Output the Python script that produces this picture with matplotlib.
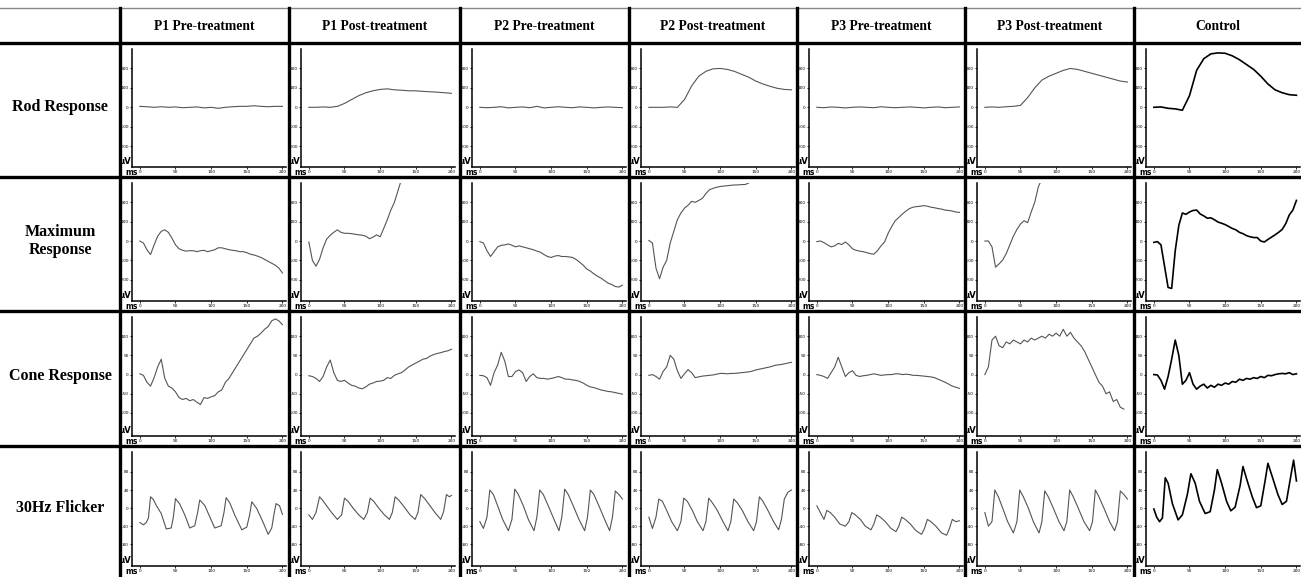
import numpy as np
import matplotlib
matplotlib.use("Agg")
import matplotlib.pyplot as plt

plt.rcParams['axes.unicode_minus'] = False

col_titles = ["P1 Pre-treatment", "P1 Post-treatment", "P2 Pre-treatment",
              "P2 Post-treatment", "P3 Pre-treatment", "P3 Post-treatment",
              "Control"]
row_titles = ["Rod Response", "Maximum\nResponse", "Cone Response", "30Hz Flicker"]

# ms grids
t_rod = np.arange(0, 201, 10)
t_5 = np.arange(0, 201, 5)

# Rod response (uV), every 10 ms
rod = [
    [5, 3, 0, 3, 0, 2, -2, 0, 2, -3, 0, -5, 0, 3, 5, 5, 8, 5, 3, 5, 5],
    [0, 0, 2, 0, 5, 20, 40, 60, 75, 85, 92, 95, 90, 88, 85, 85, 82, 80, 78, 75, 72],
    [0, -2, 0, 3, -3, 0, 2, -2, 5, -3, 0, 3, 0, -2, 2, 0, -3, 0, 2, 0, -2],
    [0, 0, 0, 2, 0, 40, 110, 160, 185, 198, 200, 195, 185, 170, 155, 135, 120, 108, 98, 92, 90],
    [0, -2, 2, 0, -3, 0, 2, 0, -2, 3, 0, -2, 0, 2, 0, -3, 0, 2, -2, 0, 2],
    [0, 2, 0, 3, 5, 10, 50, 100, 140, 160, 175, 190, 200, 195, 185, 175, 165, 155, 145, 135, 130],
    [0, 2, -5, -8, -15, 60, 190, 250, 275, 280, 278, 265, 245, 220, 195, 160, 120, 90, 75, 65, 62],
]

# Maximum response (uV), every 5 ms (short lists leave the panel at the top)
maxr = [
    [0, -10, -45, -70, -20, 25, 50, 58, 45, 15, -20, -40, -48, -52, -50, -50, -55, -50, -48, -55,
     -50, -45, -35, -35, -40, -45, -48, -50, -55, -55, -60, -68, -72, -78, -85, -95, -105, -115,
     -125, -140, -165],
    [-5, -100, -130, -95, -35, 10, 30, 45, 58, 45, 40, 40, 38, 35, 32, 30, 25, 12, 20, 32, 22,
     65, 110, 160, 200, 260, 320],
    [-3, -10, -50, -80, -55, -30, -22, -20, -15, -22, -30, -25, -30, -35, -40, -45, -52, -58, -70,
     -80, -85, -78, -75, -80, -80, -82, -85, -95, -110, -125, -145, -155, -170, -182, -192, -205,
     -218, -225, -235, -238, -228],
    [3, -10, -140, -195, -135, -100, -10, 50, 110, 145, 170, 185, 205, 200, 210, 220, 245, 265,
     272, 278, 282, 284, 286, 288, 290, 290, 292, 292, 300, 310],
    [-3, 0, -8, -20, -30, -25, -12, -18, -5, -20, -40, -48, -52, -55, -60, -65, -68, -50, -25, -5,
     40, 75, 105, 122, 140, 155, 168, 175, 178, 180, 183, 180, 175, 172, 168, 165, 160, 158, 155,
     150, 148],
    [0, 0, -30, -135, -118, -98, -65, -20, 25, 60, 88, 105, 95, 150, 200, 280, 320],
    [-7, -3, -20, -130, -240, -245, -50, 80, 145, 138, 150, 158, 160, 140, 130, 118, 120, 110, 98,
     92, 85, 75, 65, 58, 45, 38, 28, 22, 18, 18, 0, -5, 8, 20, 32, 45, 60, 90, 135, 160, 210],
]

# Cone response (uV), every 5 ms
cone = [
    [2, -2, -20, -30, -8, 20, 40, -10, -30, -35, -45, -60, -65, -62, -68, -65, -72, -78, -60, -62,
     -58, -55, -45, -40, -20, -10, 5, 20, 35, 50, 65, 80, 95, 100, 108, 118, 125, 140, 145, 140, 130],
    [-3, -5, -10, -18, -5, 20, 38, 5, -15, -18, -15, -22, -28, -30, -35, -37, -32, -25, -22, -18,
     -17, -15, -8, -10, -2, 2, 5, 12, 20, 25, 30, 35, 40, 42, 48, 52, 55, 57, 60, 62, 66],
    [-2, -3, -8, -28, 5, 25, 58, 35, -5, -5, 8, 12, 5, -18, -5, 2, -8, -10, -10, -12, -10, -8, -5,
     -8, -12, -12, -14, -15, -18, -22, -28, -32, -34, -37, -40, -42, -44, -45, -47, -49, -51],
    [-2, 0, -5, -12, 8, 20, 50, 40, 10, -10, 2, 13, 5, -8, -6, -4, -3, -2, -1, 1, 3, 3, 2, 3, 3,
     4, 5, 6, 7, 9, 12, 14, 16, 18, 20, 23, 25, 26, 28, 30, 32],
    [0, -2, -5, -10, 5, 20, 45, 20, -5, 5, 10, -2, -5, -3, -2, 0, 2, 0, -2, -1, 0, 0, 2, 2, 0, 1,
     0, -2, -2, -3, -4, -5, -6, -8, -12, -16, -20, -25, -30, -33, -36],
    [0, 20, 90, 100, 75, 70, 85, 80, 90, 85, 80, 90, 85, 95, 90, 95, 100, 95, 105, 100, 108, 100,
     118, 100, 110, 95, 85, 75, 60, 40, 20, 0, -20, -30, -50, -45, -70, -65, -85, -90],
    [0, -1, -15, -38, -5, 40, 90, 50, -25, -15, 5, -25, -38, -30, -25, -35, -28, -33, -25, -28,
     -22, -25, -18, -20, -12, -15, -10, -12, -8, -10, -5, -8, -2, -3, 0, 2, 3, 2, 5, 0, 2],
]

# 30Hz flicker: (ms, uV) pairs read at turning points
flk_t = [
    [0, 5, 9, 12, 15, 19, 23, 30, 37, 44, 47, 50, 56, 63, 70, 77, 81, 84, 91, 98, 105, 114, 118,
     121, 126, 133, 143, 150, 154, 157, 164, 173, 180, 185, 188, 191, 196, 200],
    [0, 5, 10, 15, 19, 25, 32, 40, 46, 50, 55, 62, 70, 77, 82, 86, 91, 98, 106, 113, 117, 121, 126,
     134, 142, 149, 153, 157, 163, 170, 178, 185, 189, 193, 197, 200],
    [0, 5, 10, 14, 19, 25, 32, 40, 45, 49, 54, 61, 68, 76, 80, 84, 89, 96, 104, 111, 115, 119, 124,
     131, 139, 147, 151, 155, 160, 167, 175, 182, 186, 190, 195, 200],
    [0, 5, 10, 14, 19, 25, 32, 40, 45, 49, 54, 61, 68, 76, 80, 84, 89, 96, 104, 111, 115, 119, 124,
     131, 139, 147, 151, 155, 160, 167, 175, 182, 186, 190, 195, 200],
    [0, 5, 10, 14, 19, 25, 32, 40, 45, 49, 54, 61, 68, 76, 80, 84, 89, 96, 104, 111, 115, 119, 124,
     131, 139, 147, 151, 155, 160, 167, 175, 182, 186, 190, 195, 200],
    [0, 5, 10, 14, 19, 25, 32, 40, 45, 49, 54, 61, 68, 76, 80, 84, 89, 96, 104, 111, 115, 119, 124,
     131, 139, 147, 151, 155, 160, 167, 175, 182, 186, 190, 195, 200],
    [0, 4, 8, 12, 16, 20, 26, 34, 40, 47, 52, 58, 64, 72, 79, 85, 89, 95, 102, 108, 114, 121, 125,
     131, 138, 144, 150, 156, 160, 167, 174, 180, 186, 192, 196, 200],
]
flk_v = [
    [-32, -37, -32, -22, 25, 19, 6, -12, -46, -44, -20, 21, 9, -15, -44, -39, -10, 18, 6, -19,
     -44, -39, -10, 23, 12, -15, -48, -42, -15, 14, -1, -32, -58, -44, -15, 10, 5, -14],
    [-15, -25, -10, 25, 18, 5, -10, -25, -15, 22, 15, 0, -15, -25, -10, 22, 15, 0, -15, -25, -10,
     25, 18, 2, -15, -25, -10, 30, 20, 5, -12, -25, -8, 30, 25, 28],
    [-30, -45, -20, 40, 30, 5, -25, -50, -25, 42, 30, 5, -25, -50, -20, 40, 30, 5, -25, -50, -20,
     42, 30, 5, -25, -50, -20, 40, 30, 5, -25, -50, -20, 38, 30, 20],
    [-20, -45, -20, 20, 15, -5, -30, -50, -30, 22, 15, -5, -30, -50, -30, 22, 12, -5, -30, -50,
     -30, 20, 12, -5, -30, -50, -30, 25, 15, -5, -30, -48, -25, 20, 35, 40],
    [5, -10, -25, -5, -10, -20, -35, -40, -30, -10, -15, -25, -40, -48, -35, -15, -20, -30, -45,
     -52, -40, -20, -25, -35, -50, -58, -45, -25, -30, -40, -55, -60, -45, -25, -30, -28],
    [-10, -40, -30, 40, 25, 0, -30, -55, -30, 40, 25, 0, -30, -55, -30, 38, 25, 0, -30, -50, -30,
     40, 25, 0, -30, -50, -30, 40, 25, 0, -30, -50, -30, 38, 30, 20],
    [-2, -20, -30, -22, 67, 55, 10, -26, -15, 30, 76, 55, 15, -12, -8, 40, 85, 55, 15, -6, 2, 50,
     92, 60, 25, 1, 5, 60, 99, 65, 30, 8, 15, 70, 106, 60],
]

row_ylim = [(-307, 300), (-310, 300), (-160, 150), (-128, 124)]
row_ticks = [[-200, -100, 0, 100, 200], [-200, -100, 0, 100, 200],
             [-100, -50, 0, 50, 100], [-80, -40, 0, 40, 80]]

W, H = 1301, 577
col_x = [120, 289, 460, 629, 797, 965, 1134, 1301]
row_y = [43, 177, 311, 446, 577]
ax_bottom = [124, 124, 125, 120]

fig = plt.figure(figsize=(W / 100, H / 100), dpi=100)
bg = fig.add_axes([0, 0, 1, 1])
bg.set_xlim(0, W)
bg.set_ylim(H, 0)
bg.axis('off')

# table grid
bg.plot([0, W], [8, 8], color='#888888', lw=1.0)
for y in row_y[:-1]:
    bg.plot([0, W], [y, y], color='black', lw=2.4)
for x in col_x[:-1]:
    bg.plot([x, x], [8, H], color='black', lw=2.4)

for j, name in enumerate(col_titles):
    bg.text((col_x[j] + col_x[j + 1]) / 2, 26, name, ha='center', va='center',
            fontsize=9.8, fontweight='bold', family='Liberation Serif')
for i, name in enumerate(row_titles):
    bg.text(60, (row_y[i] + row_y[i + 1]) / 2 - 3, name, ha='center', va='center',
            fontsize=11.5, fontweight='bold', family='Liberation Serif', linespacing=1.2)

for i in range(4):
    for j in range(7):
        x0 = col_x[j] + 12
        x1 = col_x[j] + 166
        y0 = row_y[i] + 6
        y1 = row_y[i] + ax_bottom[i]
        ax = fig.add_axes([x0 / W, 1 - y1 / H, (x1 - x0) / W, (y1 - y0) / H])
        ax.patch.set_alpha(0)
        if j == 6:
            color, lw = 'black', 1.2
        else:
            color, lw = '#555555', 0.8
        if i == 0:
            ax.plot(t_rod, rod[j], color=color, lw=lw)
        elif i == 1:
            ax.plot(t_5[:len(maxr[j])], maxr[j], color=color, lw=lw)
        elif i == 2:
            ax.plot(t_5[:len(cone[j])], cone[j], color=color, lw=lw)
        else:
            ax.plot(flk_t[j], flk_v[j], color=color, lw=lw)
        ax.set_xlim(-11, 205)
        ax.set_ylim(*row_ylim[i])
        ax.set_yticks(row_ticks[i])
        ax.set_yticklabels([str(v) for v in row_ticks[i]])
        ax.set_xticks([0, 50, 100, 150, 200])
        ax.set_xticklabels(['0', '50', '100', '150', '200'])
        ax.tick_params(labelsize=3.1, length=1.5, width=0.6, pad=0.8, colors='black')
        for s in ['top', 'right']:
            ax.spines[s].set_visible(False)
        for s in ['left', 'bottom']:
            ax.spines[s].set_linewidth(1.1)
        ax.text(-0.005, 0.01, "μV", transform=ax.transAxes, ha='right', va='bottom',
                fontsize=6, fontweight='bold')
        ax.text(0.0, -0.01, "ms", transform=ax.transAxes, ha='center', va='top',
                fontsize=5.5, fontweight='bold')

fig.savefig("out.png", dpi=100)
